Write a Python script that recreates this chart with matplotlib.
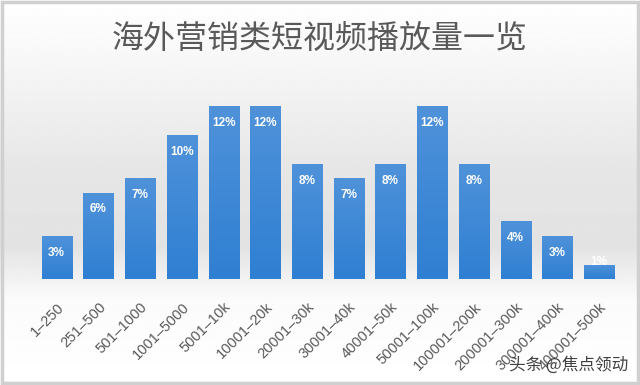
import numpy as np
import matplotlib
matplotlib.use("Agg")
import matplotlib.pyplot as plt
from matplotlib.patches import Rectangle
from matplotlib.colors import LinearSegmentedColormap

plt.rcParams['font.family'] = ['Liberation Sans', 'Noto Sans CJK SC', 'DejaVu Sans']

categories = ["1–250", "251–500", "501–1000", "1001–5000", "5001–10k", "10001–20k",
              "20001–30k", "30001–40k", "40001–50k", "50001–100k", "100001–200k",
              "200001–300k", "300001–400k", "400001–500k"]
shares = [3, 6, 7, 10, 12, 12, 8, 7, 8, 12, 8, 4, 3, 1]
title = "海外营销类短视频播放量一览"

fig = plt.figure(figsize=(6.4, 3.85), dpi=100)

# background gradient: white top, grey band near bar base, white bottom
bg = fig.add_axes([0, 0, 1, 1], zorder=-10)
yy = np.linspace(0, 1, 400)
stops_y = [0.0, 0.22, 0.36, 0.55, 0.85, 1.0]
stops_v = [1.0, 0.985, 0.89, 0.9, 0.97, 1.0]
vals = np.interp(yy, stops_y, stops_v)
img = np.repeat(vals[:, None], 10, axis=1)
bg.imshow(img, cmap="gray", vmin=0, vmax=1, aspect="auto", origin="lower",
          extent=[0, 1, 0, 1])
bg.set_xlim(0, 1)
bg.set_ylim(0, 1)
bg.axis("off")
bg.add_patch(Rectangle((0.003, 0.004), 0.994, 0.991, fill=False,
                       edgecolor="#d0d0d0", linewidth=2.5))

ax = fig.add_axes([0.056, 0.275, 0.9125, 0.524])
ax.patch.set_alpha(0)
x = np.arange(len(categories))
bars = ax.bar(x, shares, width=0.72, color="#3f88d6", edgecolor="#6aa5e3", linewidth=0.7)

# vertical gradient fill inside each bar
blue = LinearSegmentedColormap.from_list("blu", ["#2f7fd2", "#4f92da"])
grad = np.linspace(0, 1, 100)[:, None]
for b in bars:
    x0, y0 = b.get_x(), b.get_y()
    w, h = b.get_width(), b.get_height()
    im = ax.imshow(grad, cmap=blue, aspect="auto", origin="lower",
                   extent=[x0, x0 + w, y0, y0 + h], zorder=b.get_zorder() + 0.1)
    im.set_clip_path(b)
ax.set_xlim(-0.5, len(categories) - 0.5)
ax.set_ylim(0, 14)

for spine in ax.spines.values():
    spine.set_visible(False)
ax.set_yticks([])
ax.set_xticks(x)
ax.set_xticklabels(categories, rotation=45, ha="right", va="top",
                   rotation_mode="anchor", fontsize=10.5, color="#595959")
ax.tick_params(axis="x", length=0, pad=15)

for xi, v in zip(x, shares):
    ty = v - 0.75 if v >= 2 else v + 0.6
    ax.text(xi, ty, f"{v}%", ha="center", va="top", color="white",
            fontsize=8.5, fontweight="bold", zorder=5)

fig.text(0.5, 0.9, title, ha="center", va="center", fontsize=23,
         color="#595959", family=["Noto Sans CJK SC", "DejaVu Sans"])

fig.text(0.982, 0.052, "头条 @焦点领动", ha="right", va="center", fontsize=12,
         color="#404040", family=["Noto Sans CJK SC", "DejaVu Sans"])

fig.savefig("out.png", dpi=100)
